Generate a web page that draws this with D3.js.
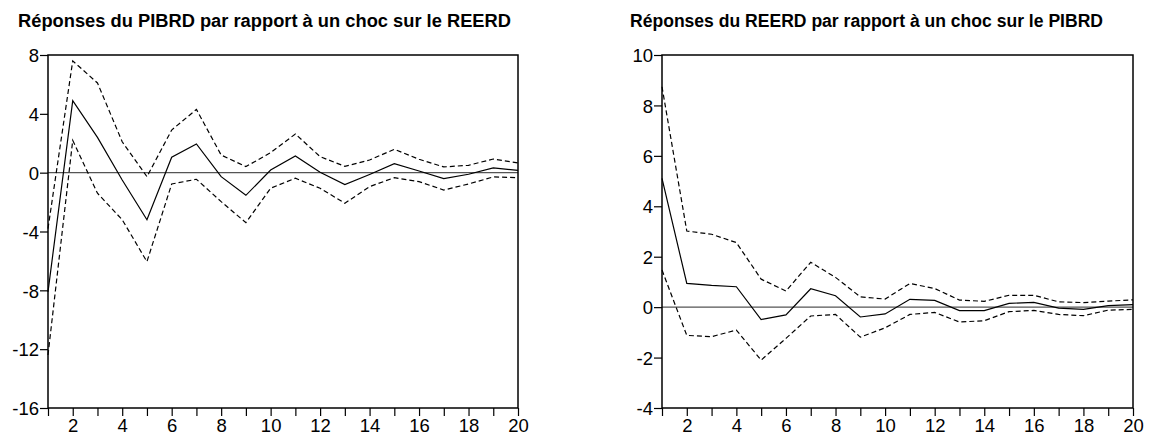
<!DOCTYPE html>
<html>
<head>
<meta charset="utf-8">
<script src="https://cdn.jsdelivr.net/npm/d3@7"></script>
<style>
  html, body { margin: 0; padding: 0; background: #fff; }
  svg { display: block; }
  text { font-family: "Liberation Sans", Arial, sans-serif; fill: #000; }
</style>
</head>
<body>
<svg id="chart" width="1168" height="435"></svg>
<script>
// Horizons (periods after the shock)
const periods = d3.range(1, 21);

// Response of PIBRD to a REERD shock
const pibMid   = [-8.1, 4.9, 2.4, -0.5, -3.2, 1.05, 1.95, -0.27, -1.54, 0.18, 1.14, 0.03, -0.81, -0.12, 0.61, 0.11, -0.41, -0.11, 0.32, 0.16];
const pibUpper = [-3.8, 7.6, 6.1, 2.1, -0.27, 2.9, 4.3, 1.2, 0.41, 1.36, 2.63, 1.09, 0.43, 0.86, 1.59, 0.91, 0.39, 0.5, 0.93, 0.66];
const pibLower = [-12.4, 2.2, -1.4, -3.2, -6.05, -0.77, -0.45, -1.97, -3.4, -1.06, -0.38, -1.06, -2.08, -0.95, -0.34, -0.61, -1.18, -0.77, -0.29, -0.34];

// Response of REERD to a PIBRD shock
const reerMid   = [5.11, 0.94, 0.86, 0.81, -0.49, -0.31, 0.73, 0.45, -0.39, -0.27, 0.31, 0.27, -0.14, -0.14, 0.15, 0.19, -0.04, -0.09, 0.06, 0.1];
const reerUpper = [8.74, 3.02, 2.89, 2.56, 1.11, 0.64, 1.78, 1.18, 0.41, 0.32, 0.94, 0.74, 0.28, 0.23, 0.47, 0.47, 0.21, 0.18, 0.24, 0.29];
const reerLower = [1.47, -1.12, -1.17, -0.91, -2.1, -1.24, -0.35, -0.29, -1.19, -0.82, -0.29, -0.21, -0.59, -0.54, -0.18, -0.13, -0.29, -0.34, -0.12, -0.09];

// Axis tick values
const pibTicks  = [-16, -12, -8, -4, 0, 4, 8];
const reerTicks = [-4, -2, 0, 2, 4, 6, 8, 10];

const panels = [
  {
    title: "Réponses du PIBRD par rapport à un choc sur le REERD",
    titleX: 18, titleW: 493,
    x0: 48, x1: 518,
    yDomain: [-16, 8], yTicks: pibTicks,
    mid: pibMid, upper: pibUpper, lower: pibLower
  },
  {
    title: "Réponses du REERD par rapport à un choc sur le PIBRD",
    titleX: 630, titleW: 473,
    x0: 662, x1: 1133,
    yDomain: [-4, 10], yTicks: reerTicks,
    mid: reerMid, upper: reerUpper, lower: reerLower
  }
];

const plotTop = 55, plotBottom = 408;
const svg = d3.select("#chart");
const plain = d => String(d); // ASCII hyphen for negatives

panels.forEach(p => {
  const x = d3.scaleLinear().domain([1, 20]).range([p.x0, p.x1]);
  const y = d3.scaleLinear().domain(p.yDomain).range([plotBottom, plotTop]);
  const g = svg.append("g");

  // Title
  g.append("text")
    .attr("x", p.titleX).attr("y", 26.5)
    .attr("font-size", 17.5).attr("font-weight", "bold")
    .attr("textLength", p.titleW).attr("lengthAdjust", "spacingAndGlyphs")
    .text(p.title);

  // Zero reference line
  g.append("line")
    .attr("x1", p.x0).attr("x2", p.x1)
    .attr("y1", y(0)).attr("y2", y(0))
    .attr("stroke", "#555").attr("stroke-width", 1.4);

  // Response and confidence bands
  const line = d3.line().x((d, i) => x(periods[i])).y(d => y(d));
  [[p.upper, "5,3"], [p.lower, "5,3"], [p.mid, null]].forEach(([vals, dash]) => {
    g.append("path")
      .datum(vals)
      .attr("d", line)
      .attr("fill", "none")
      .attr("stroke", "#000")
      .attr("stroke-width", 1.2)
      .attr("stroke-dasharray", dash);
  });

  // Frame
  g.append("rect")
    .attr("x", p.x0).attr("y", plotTop)
    .attr("width", p.x1 - p.x0).attr("height", plotBottom - plotTop)
    .attr("fill", "none").attr("stroke", "#000").attr("stroke-width", 1.5);

  // Y axis
  const ya = g.append("g")
    .attr("transform", `translate(${p.x0},0)`)
    .call(d3.axisLeft(y).tickValues(p.yTicks).tickSize(8).tickPadding(1).tickFormat(plain));
  ya.select(".domain").remove();
  ya.selectAll("line").attr("stroke", "#000").attr("stroke-width", 1.2);
  ya.selectAll("text")
    .attr("font-size", 18.5)
    .attr("font-family", "Liberation Sans, Arial, sans-serif")
    .attr("dy", "0.36em");

  // X axis
  const xa = g.append("g")
    .attr("transform", `translate(0,${plotBottom})`)
    .call(d3.axisBottom(x).tickValues(periods).tickSize(8).tickPadding(3)
      .tickFormat(d => d % 2 === 0 ? plain(d) : ""));
  xa.select(".domain").remove();
  xa.selectAll("line").attr("stroke", "#000").attr("stroke-width", 1.2);
  xa.selectAll("text")
    .attr("font-size", 18.5)
    .attr("font-family", "Liberation Sans, Arial, sans-serif");
});
</script>
</body>
</html>
